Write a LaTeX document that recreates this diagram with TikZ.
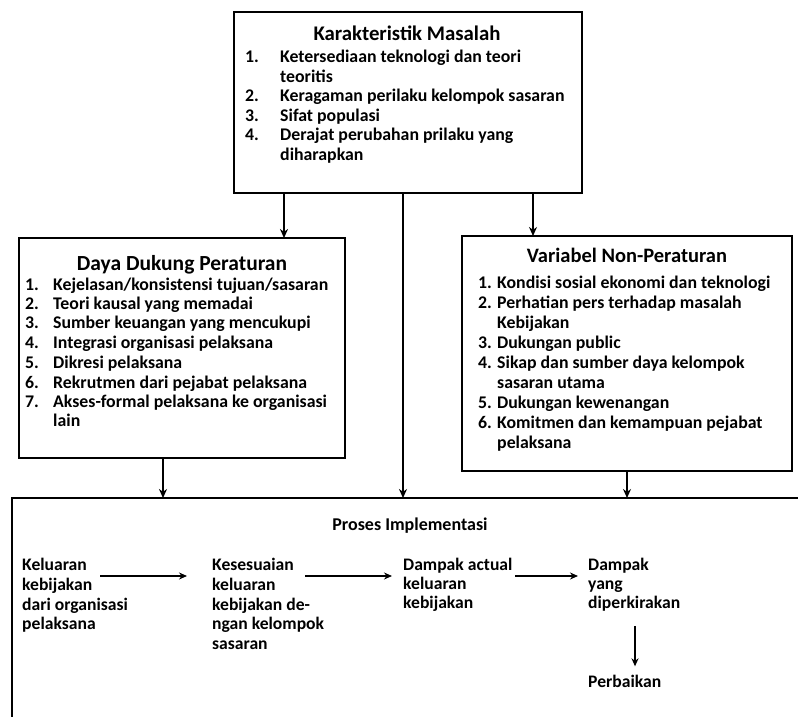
\documentclass[tikz,border=0pt]{standalone}
\usepackage{fontspec}
\setmainfont{Carlito}
\usetikzlibrary{arrows.meta}
\begin{document}
\begin{tikzpicture}[x=1pt,y=-1pt,
 box/.style={draw, line width=2.5pt, inner sep=0pt, outer sep=0pt},
 arr/.style={line width=2pt, -{Stealth[length=9pt,width=8pt]}},
 harr/.style={line width=1.6pt, -{Stealth[length=8pt,width=7pt]}},
 tx/.style={inner sep=0pt, anchor=mid west, yshift=-3.5pt, font=\bfseries\fontsize{17.8}{20}\selectfont},
 ttl/.style={inner sep=0pt, anchor=mid, yshift=-3.5pt, font=\bfseries\fontsize{#1}{22}\selectfont},
 lx/.style={inner sep=0pt, anchor=mid west, yshift=-3.5pt, font=\bfseries\fontsize{17.6}{20}\selectfont},
]
\useasboundingbox[fill=white] (0,0) rectangle (798,717);

% boxes
\node[box, minimum width=348pt, minimum height=181pt] (km) at (408,102.5) {};
\node[box, minimum width=326pt, minimum height=220pt] (ddp) at (182,348) {};
\node[box, minimum width=330pt, minimum height=235pt] (vnp) at (627,353.5) {};
\node[box, minimum width=818pt, minimum height=262pt] (pi) at (421,629) {};

% Karakteristik Masalah
\node[ttl=20.8] (kmt) at (407,35) {Karakteristik Masalah};
\node[tx] (km1n) at (245,57) {1.};   \node[tx] (km1) at (280,57) {Ketersediaan teknologi dan teori};
\node[tx] (km1b) at (280,76.5) {teoritis};
\node[tx] (km2n) at (245,96) {2.};   \node[tx] (km2) at (280,96) {Keragaman perilaku kelompok sasaran};
\node[tx] (km3n) at (245,115.5) {3.}; \node[tx] (km3) at (280,115.5) {Sifat populasi};
\node[tx] (km4n) at (245,135) {4.};  \node[tx] (km4) at (280,135) {Derajat perubahan prilaku yang};
\node[tx] (km4b) at (280,154.5) {diharapkan};

% Daya Dukung Peraturan
\node[ttl=21.5] (ddpt) at (182,265) {Daya Dukung Peraturan};
\node[tx] (d1n) at (25,285) {1.}; \node[tx] (d1) at (53,285) {Kejelasan/konsistensi tujuan/sasaran};
\node[tx] (d2n) at (25,304) {2.}; \node[tx] (d2) at (53,304) {Teori kausal yang memadai};
\node[tx] (d3n) at (25,323) {3.}; \node[tx] (d3) at (53,323) {Sumber keuangan yang mencukupi};
\node[tx] (d4n) at (25,343) {4.}; \node[tx] (d4) at (53,343) {Integrasi organisasi pelaksana};
\node[tx] (d5n) at (25,363) {5.}; \node[tx] (d5) at (53,363) {Dikresi pelaksana};
\node[tx] (d6n) at (25,383) {6.}; \node[tx] (d6) at (53,383) {Rekrutmen dari pejabat pelaksana};
\node[tx] (d7n) at (25,402) {7.}; \node[tx] (d7) at (53,402) {Akses-formal pelaksana ke organisasi};
\node[tx] (d7b) at (53,421) {lain};

% Variabel Non-Peraturan
\node[ttl=20.5] (vnpt) at (627,257) {Variabel Non-Peraturan};
\node[tx] (v1n) at (478,283) {1.}; \node[tx] (v1) at (497,283) {Kondisi sosial ekonomi dan teknologi};
\node[tx] (v2n) at (478,303) {2.}; \node[tx] (v2) at (497,303) {Perhatian pers terhadap masalah};
\node[tx] (v2b) at (497,323) {Kebijakan};
\node[tx] (v3n) at (478,343) {3.}; \node[tx] (v3) at (497,343) {Dukungan public};
\node[tx] (v4n) at (478,363) {4.}; \node[tx] (v4) at (497,363) {Sikap dan sumber daya kelompok};
\node[tx] (v4b) at (497,383) {sasaran utama};
\node[tx] (v5n) at (478,403) {5.}; \node[tx] (v5) at (497,403) {Dukungan kewenangan};
\node[tx] (v6n) at (478,423) {6.}; \node[tx] (v6) at (497,423) {Komitmen dan kemampuan pejabat};
\node[tx] (v6b) at (497,443) {pelaksana};

% Proses Implementasi
\node[ttl=18] (pit) at (410,525) {Proses Implementasi};
\node[lx] (a1) at (22,565) {Keluaran};
\node[lx] (a2) at (22,585) {kebijakan};
\node[lx] (a3) at (22,605) {dari organisasi};
\node[lx] (a4) at (22,624) {pelaksana};
\node[lx] (b1) at (212,565) {Kesesuaian};
\node[lx] (b2) at (212,585) {keluaran};
\node[lx] (b3) at (212,605) {kebijakan de-};
\node[lx] (b4) at (212,624) {ngan kelompok};
\node[lx] (b5) at (212,644) {sasaran};
\node[lx] (c1) at (403,565) {Dampak actual};
\node[lx] (c2) at (403,584) {keluaran};
\node[lx] (c3) at (403,603) {kebijakan};
\node[lx] (e1) at (588,565) {Dampak};
\node[lx] (e2) at (588,584) {yang};
\node[lx] (e3) at (588,603) {diperkirakan};
\node[lx] (pb) at (588,682) {Perbaikan};

% vertical connectors
\coordinate (x1) at (284,0);
\coordinate (x2) at (403,0);
\coordinate (x3) at (533,0);
\coordinate (x4) at (163,0);
\draw[arr] (km.south -| x1) -- (ddp.north -| x1);
\draw[arr] (km.south -| x2) -- (pi.north -| x2);
\draw[arr] (km.south -| x3) -- (vnp.north -| x3);
\draw[arr] (ddp.south -| x4) -- (pi.north -| x4);
\draw[arr] (vnp.south) -- (pi.north -| vnp.south);

% horizontal connectors
\coordinate (y1) at (0,576);
\draw[harr] ([shift={(78,0)}]a1.west |- y1) -- ([shift={(-25,0)}]b1.west |- y1);
\draw[harr] ([shift={(93,0)}]b1.west |- y1) -- ([shift={(-11,0)}]c1.west |- y1);
\draw[harr] ([shift={(112,0)}]c1.west |- y1) -- ([shift={(-10,0)}]e1.west |- y1);
\coordinate (x5) at (635,0);
\draw[harr] ([shift={(0,14)}]e3.south -| x5) -- ([shift={(0,-9)}]pb.north -| x5);
\end{tikzpicture}
\end{document}
